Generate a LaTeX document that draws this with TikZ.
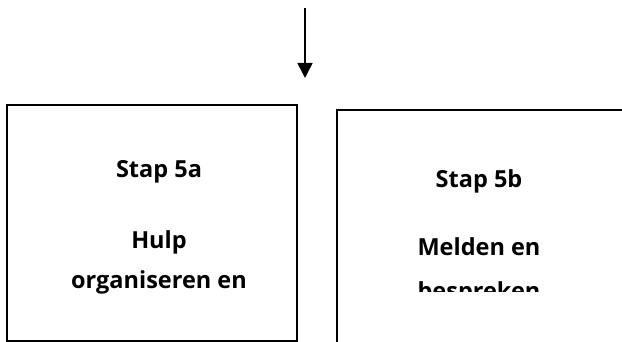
\documentclass[tikz,border=0pt]{standalone}
\usepackage{fontspec}
\setmainfont{Open Sans}
\usetikzlibrary{arrows.meta,positioning}
\begin{document}
\begin{tikzpicture}[x=1pt, y=-1pt, >={Triangle[width=15pt,length=15pt]},
  box/.style={rectangle, draw, line width=1.5pt, inner sep=0pt},
  steptext/.style={font=\bfseries\fontsize{23.5}{28}\selectfont, anchor=base, inner sep=0pt}]
\useasboundingbox (0,0) rectangle (622,342);

% Arrow from above
\coordinate (arrowtop) at (305,8);
\coordinate (arrowend) at (305,78);
\draw[->, line width=1.5pt] (arrowtop) -- (arrowend);

% Stap 5a
\node[box, minimum width=290pt, minimum height=236pt] (stapa) at (152,223) {};
\node[steptext] (titlea) at (159,178) {Stap 5a};
\node[steptext] (linea1) at (159,248) {Hulp};
\node[steptext] (linea2) at (159,289) {organiseren en};

% Stap 5b
\node[box, minimum width=300pt, minimum height=240pt] (stapb) at (487,230) {};
\begin{scope}
\clip (337,110) rectangle (630,292);
\node[steptext] (titleb) at (479,188) {Stap 5b};
\node[steptext] (lineb1) at (479,256) {Melden en};
\node[steptext] (lineb2) at (479,300) {bespreken};
\end{scope}

\end{tikzpicture}
\end{document}
